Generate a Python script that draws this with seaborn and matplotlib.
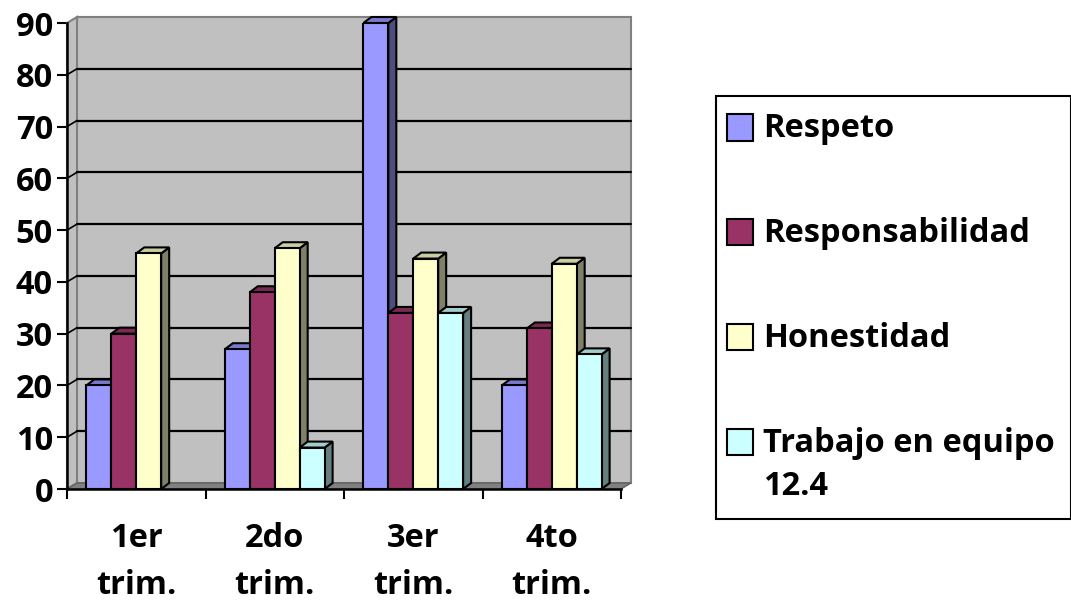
import numpy as np
import pandas as pd
import matplotlib
matplotlib.use("Agg")
import matplotlib.pyplot as plt
from matplotlib.patches import Polygon, Rectangle, Patch
from matplotlib.legend_handler import HandlerPatch
from matplotlib.colors import to_hex
import seaborn as sns

# ---- data ----
trimestres = ["1er\ntrim.", "2do\ntrim.", "3er\ntrim.", "4to\ntrim."]
series = ["Respeto", "Responsabilidad", "Honestidad", "Trabajo en equipo\n12.4"]
respeto = [20, 27, 90, 20]
responsabilidad = [30, 38, 34, 31]
honestidad = [45.5, 46.5, 44.5, 43.5]
trabajo = [0, 8, 34, 26]
y_ticks = list(range(0, 100, 10))

front_colors = ["#9999FF", "#993366", "#FFFFCC", "#CCFFFF"]
side_colors = ["#4D4D80", "#4D1A33", "#808066", "#668080"]
top_colors = ["#7A7ACC", "#7A2952", "#CCCCA3", "#A3CCCC"]

values = [respeto, responsabilidad, honestidad, trabajo]
rows = []
for j, s in enumerate(series):
    for i, t in enumerate(trimestres):
        rows.append({"trim": t, "serie": s, "valor": values[j][i]})
df = pd.DataFrame(rows)

sns.set_theme(style="white")
plt.rcParams["font.family"] = ["Open Sans", "DejaVu Sans"]
plt.rcParams["font.weight"] = "bold"
plt.rcParams["text.color"] = "black"
plt.rcParams["xtick.color"] = "black"
plt.rcParams["ytick.color"] = "black"
plt.rcParams["xtick.labelcolor"] = "black"
plt.rcParams["ytick.labelcolor"] = "black"
FS = 23.5

W, H = 1071, 603
fig = plt.figure(figsize=(W / 100, H / 100), dpi=100)
ax_left, ax_right, ax_top, ax_bot = 67, 621, 23, 489
ax = fig.add_axes([ax_left / W, 1 - ax_bot / H, (ax_right - ax_left) / W, (ax_bot - ax_top) / H])
ax.patch.set_visible(False)

sns.barplot(data=df, x="trim", y="valor", hue="serie", order=trimestres, hue_order=series,
            palette=front_colors, saturation=1, width=0.72, edgecolor="black",
            linewidth=1.5, ax=ax)
bars = list(ax.patches)
if ax.get_legend() is not None:
    ax.get_legend().remove()

ax.set_xlim(-0.5, 3.5)
ax.set_ylim(0, 90)

px_x = (ax_right - ax_left) / 4.0
px_y = (ax_bot - ax_top) / 90.0
wdx, wdy = 10 / px_x, 6 / px_y
bdx, bdy = 8 / px_x, 6 / px_y

# walls
ax.add_patch(Rectangle((-0.5 + wdx, wdy), 4, 90, fc="#C0C0C0", ec="#808080", lw=1.5,
                       zorder=0.5, clip_on=False))
ax.add_patch(Polygon([(-0.5, 0), (-0.5, 90), (-0.5 + wdx, 90 + wdy), (-0.5 + wdx, wdy)],
                     closed=True, fc="#C0C0C0", ec="#808080", lw=1.5, zorder=0.6, clip_on=False))
ax.add_patch(Polygon([(-0.5, 0), (3.5, 0), (3.5 + wdx, wdy), (-0.5 + wdx, wdy)],
                     closed=True, fc="#808080", ec="#606060", lw=1.0, zorder=0.7, clip_on=False))
for v in y_ticks[1:-1]:
    ax.plot([-0.5 + wdx, 3.5 + wdx], [v + wdy, v + wdy], color="black", lw=1.6,
            zorder=0.8, clip_on=False)
    ax.plot([-0.5, -0.5 + wdx], [v, v + wdy], color="black", lw=1.2, zorder=0.8, clip_on=False)

# 3D faces on bars
bars_sorted = sorted(bars, key=lambda p: p.get_x())
for k, p in enumerate(bars_sorted):
    x0, w, h = p.get_x(), p.get_width(), p.get_height()
    if not np.isfinite(h) or h <= 0:
        p.set_visible(False)
        continue
    idx = [c.lower() for c in front_colors].index(to_hex(p.get_facecolor()).lower())
    z = 3 + k * 0.1
    p.set_zorder(z + 0.05)
    ax.add_patch(Polygon([(x0 + w, 0), (x0 + w + bdx, bdy), (x0 + w + bdx, h + bdy), (x0 + w, h)],
                         closed=True, fc=side_colors[idx], ec="black", lw=1.5, zorder=z,
                         clip_on=False))
    ax.add_patch(Polygon([(x0, h), (x0 + bdx, h + bdy), (x0 + w + bdx, h + bdy), (x0 + w, h)],
                         closed=True, fc=top_colors[idx], ec="black", lw=1.5, zorder=z,
                         clip_on=False))

# axes, ticks
sns.despine(ax=ax, top=True, right=True)
for side in ["left", "bottom"]:
    ax.spines[side].set_color("black")
    ax.spines[side].set_linewidth(1.8)
    ax.spines[side].set_zorder(10)
ax.set_yticks(y_ticks)
ax.set_yticklabels([str(v) for v in y_ticks], fontsize=FS, fontweight="bold", color="black")
ax.set_xticks([-0.5, 0.5, 1.5, 2.5, 3.5])
ax.set_xticklabels([])
ax.set_xticks([0, 1, 2, 3], minor=True)
ax.set_xticklabels(trimestres, minor=True, fontsize=FS, fontweight="bold", linespacing=1.55,
                   color="black")
ax.tick_params(axis="x", which="major", bottom=True, length=7, width=1.5, color="black",
               direction="out")
ax.tick_params(axis="x", which="minor", bottom=True, length=0, pad=24)
ax.tick_params(axis="y", left=True, length=7, width=1.5, color="black", direction="out", pad=3)
ax.set_xlabel("")
ax.set_ylabel("")
ax.grid(False)


# legend
SHIFT_PT = 3.6  # square drawn slightly left of its handle box


def square(legend, orig_handle, xdescent, ydescent, width, height, fontsize):
    s = 0.8 * fontsize
    return Rectangle((-xdescent - SHIFT_PT, -ydescent + (height - s) / 2.0), s, s)


handles = [Patch(facecolor=c, edgecolor="black", linewidth=1.5) for c in front_colors]
leg = fig.legend(handles, series, loc="upper left", bbox_to_anchor=(716 / W, 1 - 96 / H),
                 bbox_transform=fig.transFigure, fontsize=FS, frameon=True, fancybox=False,
                 edgecolor="black", framealpha=1, borderpad=0.5,
                 handlelength=0.8 - SHIFT_PT / FS,
                 handleheight=1.05, handletextpad=0.3, labelspacing=2.2, borderaxespad=0,
                 labelcolor="black",
                 handler_map={Patch: HandlerPatch(patch_func=square)})
leg.get_frame().set_linewidth(1.5)
for t in leg.get_texts():
    t.set_fontweight("bold")
    t.set_linespacing(1.4)
for col in leg._legend_handle_box.get_children():
    for item in col.get_children():
        item.align = "top"

fig.savefig("out.png", dpi=100)
